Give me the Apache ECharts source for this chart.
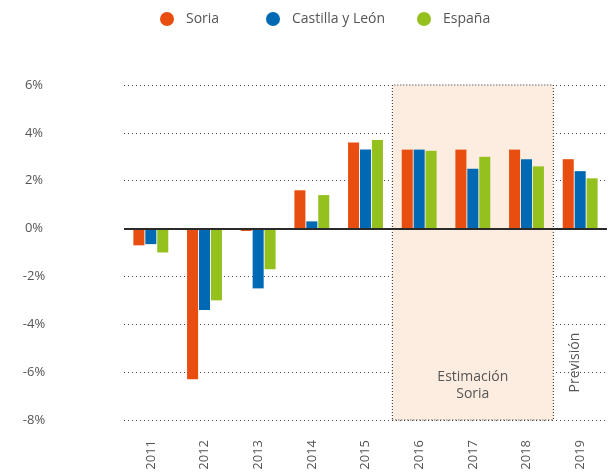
<!DOCTYPE html>
<html>
<head>
<meta charset="utf-8">
<title>Soria</title>
<script src="https://cdn.jsdelivr.net/npm/echarts@6/dist/echarts.min.js"></script>
<style>
  html, body { margin: 0; padding: 0; background: #fff; }
  #chart { width: 610px; height: 476px; }
</style>
</head>
<body>
<div id="chart"></div>
<script>
// data
var years = ['2011', '2012', '2013', '2014', '2015', '2016', '2017', '2018', '2019'];
var names = ['Soria', 'Castilla y León', 'España'];
var soria   = [-0.7, -6.3, -0.1, 1.6, 3.6, 3.3, 3.3, 3.3, 2.9];
var cyl     = [-0.65, -3.4, -2.5, 0.3, 3.3, 3.3, 2.5, 2.9, 2.4];
var espana  = [-1.0, -3.0, -1.7, 1.4, 3.7, 3.25, 3.0, 2.6, 2.1];
var yTicks  = [-8, -6, -4, -2, 0, 2, 4, 6];

var colors = ['#e84e0f', '#0069b4', '#95c11f'];
var font = '"Open Sans", "Noto Sans", sans-serif';
var legendLeft = [160, 266, 417];

var chart = echarts.init(document.getElementById('chart'));

function barSeries(name, data, i) {
    return {
        name: name,
        type: 'bar',
        data: data,
        barGap: '8%',
        barCategoryGap: '35%',
        itemStyle: { color: colors[i] },
        emphasis: { disabled: true }
    };
}

var series = [
    barSeries(names[0], soria, 0),
    barSeries(names[1], cyl, 1),
    barSeries(names[2], espana, 2)
];

// zero line
series[0].markLine = {
    silent: true,
    symbol: 'none',
    label: { show: false },
    lineStyle: { color: '#2a2a2a', width: 2, type: 'solid' },
    data: [{ yAxis: 0 }]
};

// helper on a value x axis for the shaded estimate zone and the "Previsión" note
series.push({
    type: 'scatter',
    xAxisIndex: 1,
    data: [],
    silent: true,
    markArea: {
        silent: true,
        itemStyle: {
            color: '#fdede1',
            borderColor: '#222',
            borderWidth: 1,
            borderType: [1, 2]
        },
        label: {
            show: true,
            position: 'insideBottom',
            distance: 18,
            formatter: 'Estimación\nSoria',
            color: '#555',
            fontSize: 14,
            lineHeight: 17,
            fontFamily: font
        },
        data: [[{ xAxis: 5, yAxis: yTicks[0] }, { xAxis: 8, yAxis: yTicks[yTicks.length - 1] }]]
    },
    markPoint: {
        silent: true,
        symbol: 'circle',
        symbolSize: 0,
        label: {
            show: true,
            formatter: 'Previsión',
            rotate: 90,
            color: '#555',
            fontSize: 14,
            fontFamily: font
        },
        data: [{ coord: [8.4, -5.6] }]
    }
});

var legends = names.map(function (n, i) {
    return {
        top: 12,
        left: legendLeft[i],
        padding: 0,
        icon: 'circle',
        itemWidth: 14,
        itemHeight: 14,
        textStyle: { color: '#555', fontSize: 14, fontFamily: font, padding: [0, 0, 0, 7] },
        data: [n]
    };
});

var option = {
    backgroundColor: '#fff',
    animation: false,
    textStyle: { fontFamily: font },
    legend: legends,
    grid: { left: 124, right: 3, top: 85, bottom: 56 },
    xAxis: [{
        type: 'category',
        data: years,
        position: 'bottom',
        axisLine: { show: false, onZero: false },
        axisTick: { show: false },
        axisLabel: { rotate: 90, margin: 20, color: '#555', fontSize: 13, fontFamily: font }
    }, {
        type: 'value',
        min: 0,
        max: years.length,
        show: false
    }],
    yAxis: {
        type: 'value',
        min: yTicks[0],
        max: yTicks[yTicks.length - 1],
        interval: 2,
        axisLine: { show: false },
        axisTick: { show: false },
        axisLabel: {
            margin: 90,
            align: 'center',
            color: '#555',
            fontSize: 13,
            fontFamily: font,
            formatter: '{value}%'
        },
        splitLine: { lineStyle: { color: '#444', width: 1.2, type: [1, 3] } }
    },
    series: series
};

chart.setOption(option);
</script>
</body>
</html>
